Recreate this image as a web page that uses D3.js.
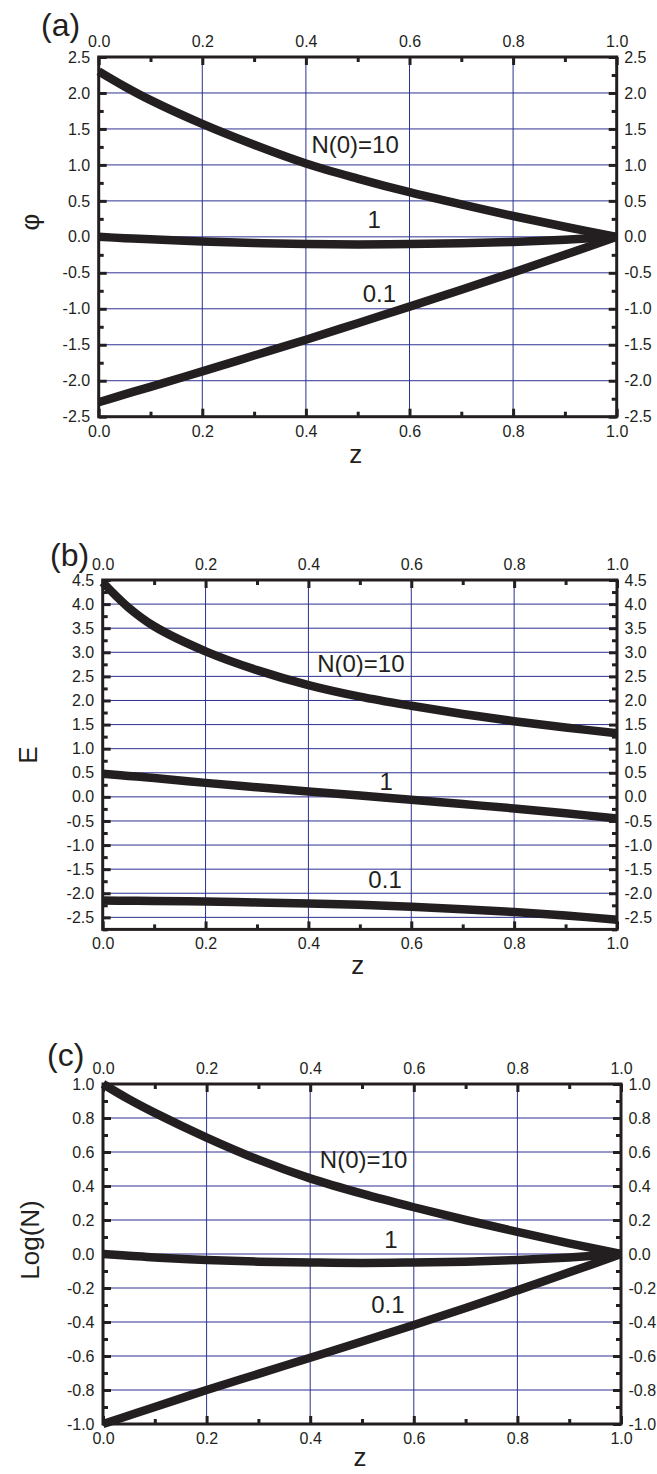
<!doctype html>
<html>
<head>
<meta charset="utf-8">
<title></title>
<style>
body{ margin:0; background:#fff; }
text{ font-family:"Liberation Sans", Arial, Helvetica, sans-serif; fill:#231f20; }
</style>
</head>
<body>
<svg></svg>
<script src="https://cdn.jsdelivr.net/npm/d3@7"></script>
<script>
  var width = 657;
  var height = 1474;

  // z positions shared by every curve
  var zVals   = [0, 0.05, 0.1, 0.2, 0.3, 0.4, 0.5, 0.6, 0.7, 0.8, 0.9, 1.0];

  // (a) phi
  var phiN10  = [2.30, 2.09, 1.90, 1.57, 1.28, 1.02, 0.81, 0.62, 0.45, 0.29, 0.14, 0];
  var phiN1   = [0, -0.018, -0.035, -0.065, -0.085, -0.10, -0.105, -0.10, -0.09, -0.07, -0.04, 0];
  var phiN01  = [-2.30, -2.19, -2.085, -1.87, -1.65, -1.43, -1.20, -0.97, -0.735, -0.495, -0.25, 0];

  // (b) E
  var eN10    = [4.45, 3.93, 3.54, 3.02, 2.63, 2.32, 2.08, 1.89, 1.72, 1.57, 1.44, 1.32];
  var eN1     = [0.48, 0.435, 0.39, 0.29, 0.20, 0.11, 0.03, -0.06, -0.15, -0.24, -0.34, -0.45];
  var eN01    = [-2.15, -2.155, -2.16, -2.17, -2.19, -2.21, -2.24, -2.28, -2.33, -2.39, -2.46, -2.55];

  // (c) Log(N)
  var logN10  = [1.0, 0.91, 0.83, 0.685, 0.555, 0.445, 0.355, 0.275, 0.20, 0.13, 0.063, 0];
  var logN1   = [0, -0.01, -0.02, -0.035, -0.045, -0.05, -0.053, -0.05, -0.045, -0.035, -0.02, 0];
  var logN01  = [-1.0, -0.95, -0.9, -0.8, -0.705, -0.61, -0.515, -0.418, -0.318, -0.214, -0.108, 0];

  // tick labels
  var xTicks   = [0, 0.2, 0.4, 0.6, 0.8, 1.0];
  var phiTicks = [-2.5, -2.0, -1.5, -1.0, -0.5, 0, 0.5, 1.0, 1.5, 2.0, 2.5];
  var eTicks   = [-2.5, -2.0, -1.5, -1.0, -0.5, 0, 0.5, 1.0, 1.5, 2.0, 2.5, 3.0, 3.5, 4.0, 4.5];
  var logTicks = [-1.0, -0.8, -0.6, -0.4, -0.2, 0, 0.2, 0.4, 0.6, 0.8, 1.0];

  var curveLabels = ["N(0)=10", "1", "0.1"];

  var ink = "#231f20";
  var gridColor = "#2e3192";

  var svg = d3.select('svg')
          .attr('width', width)
          .attr('height', height);

  var fmt = function (d) { return (Math.abs(d) < 1e-9 ? 0 : d).toFixed(1); };

  function drawPanel(p) {
      var g = svg.append('g');
      var x = d3.scaleLinear().domain([0, 1]).range([p.left, p.right]);
      var y = d3.scaleLinear().domain(p.yDomain).range([p.bottom, p.top]);

      // grid
      g.selectAll('line.vg')
          .data(xTicks.filter(function (d) { return d > 0 && d < 1; }))
          .enter().append('line')
          .attr('x1', function (d) { return x(d); })
          .attr('x2', function (d) { return x(d); })
          .attr('y1', p.top).attr('y2', p.bottom)
          .attr('stroke', gridColor).attr('stroke-width', 1);
      g.selectAll('line.hg')
          .data(p.yTicks.filter(function (d) { return d > p.yDomain[0] + 1e-6 && d < p.yDomain[1] - 1e-6; }))
          .enter().append('line')
          .attr('x1', p.left).attr('x2', p.right)
          .attr('y1', function (d) { return y(d); })
          .attr('y2', function (d) { return y(d); })
          .attr('stroke', gridColor).attr('stroke-width', 1);

      // axes: minor ticks, then major ticks with labels
      function axis(fn, scale, minor, major, tx, ty, pad) {
          var a = g.append('g').attr('transform', 'translate(' + tx + ',' + ty + ')')
                  .attr('color', ink);
          a.call(fn(scale).tickValues(minor).tickSize(-5).tickFormat(''));
          var b = g.append('g').attr('transform', 'translate(' + tx + ',' + ty + ')')
                  .attr('color', ink);
          b.call(fn(scale).tickValues(major).tickSize(-8).tickPadding(pad).tickFormat(fmt));
          [a, b].forEach(function (s) {
              s.select('.domain').remove();
              s.selectAll('line').attr('stroke-width', 3);
              s.selectAll('text').style('font-size', '16px')
                  .attr('fill', ink)
                  .style('font-family', '"Liberation Sans", Arial, Helvetica, sans-serif');
          });
      }
      axis(d3.axisBottom, x, p.xMinor, xTicks, 0, p.bottom, 8.5);
      axis(d3.axisTop, x, p.xMinor, xTicks, 0, p.top, 10.5);
      axis(d3.axisLeft, y, p.yMinor, p.yTicks, p.left, 0, 8.5);
      axis(d3.axisRight, y, p.yMinor, p.yTicks, p.right, 0, 7.5);

      // frame
      g.append('rect')
          .attr('x', p.left).attr('y', p.top)
          .attr('width', p.right - p.left).attr('height', p.bottom - p.top)
          .attr('fill', 'none').attr('stroke', ink).attr('stroke-width', 3);

      // curves
      var line = d3.line()
          .x(function (d, i) { return x(zVals[i]); })
          .y(function (d) { return y(d); })
          .curve(d3.curveCatmullRom.alpha(0.5));
      g.selectAll('path.curve')
          .data(p.series)
          .enter().append('path')
          .attr('class', 'curve')
          .attr('d', line)
          .attr('fill', 'none')
          .attr('stroke', ink)
          .attr('stroke-width', 8.5);

      // curve labels
      g.selectAll('text.lbl')
          .data(p.labelPos)
          .enter().append('text')
          .attr('class', 'lbl')
          .attr('x', function (d) { return x(d[0]); })
          .attr('y', function (d) { return y(d[1]); })
          .attr('text-anchor', 'middle')
          .style('font-size', '24px')
          .text(function (d, i) { return curveLabels[i]; });

      // axis titles
      g.append('text')
          .attr('x', (p.left + p.right) / 2 - 2)
          .attr('y', p.zY)
          .attr('text-anchor', 'middle')
          .style('font-size', '26px')
          .text('z');
      g.append('text')
          .attr('transform', 'translate(' + p.titleX + ',' + p.titleY + ') rotate(-90)')
          .attr('text-anchor', 'middle')
          .attr('dy', '0.35em')
          .style('font-size', '26px')
          .text(p.yTitle);

      // panel letter
      g.append('text')
          .attr('x', p.letterX).attr('y', p.letterY)
          .style('font-size', '32px')
          .text(p.letter);
  }

  var xMinor = [0.1, 0.3, 0.5, 0.7, 0.9];

  drawPanel({
      left: 98.7, right: 616.7, top: 57, bottom: 416.7,
      yDomain: [-2.5, 2.5], yTicks: phiTicks,
      yMinor: d3.range(-2.25, 2.5, 0.5), xMinor: xMinor,
      series: [phiN10, phiN1, phiN01],
      labelPos: [[0.495, 1.17], [0.532, 0.125], [0.542, -0.9]],
      yTitle: 'φ', titleX: 30, titleY: 222,
      letter: '(a)', letterX: 41, letterY: 36, zY: 463
  });

  drawPanel({
      left: 102.7, right: 617, top: 580, bottom: 929.4,
      yDomain: [-2.75, 4.5], yTicks: eTicks,
      yMinor: d3.range(-2.75, 4.5, 0.5), xMinor: xMinor,
      series: [eN10, eN1, eN01],
      labelPos: [[0.502, 2.59], [0.551, 0.143], [0.549, -1.89]],
      yTitle: 'E', titleX: 28, titleY: 755,
      letter: '(b)', letterX: 50, letterY: 566, zY: 974
  });

  drawPanel({
      left: 103, right: 621, top: 1084, bottom: 1424,
      yDomain: [-1, 1], yTicks: logTicks,
      yMinor: d3.range(-0.9, 1.0, 0.2), xMinor: xMinor,
      series: [logN10, logN1, logN01],
      labelPos: [[0.503, 0.506], [0.556, 0.035], [0.55, -0.347]],
      yTitle: 'Log(N)', titleX: 30, titleY: 1240,
      letter: '(c)', letterX: 47, letterY: 1066, zY: 1466
  });
</script>
</body>
</html>
